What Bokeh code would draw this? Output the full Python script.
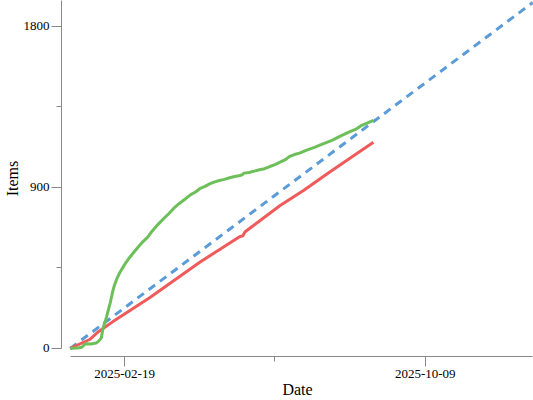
import pandas as pd
from bokeh.plotting import figure
from bokeh.models import FixedTicker, DatetimeTickFormatter, Range1d
from bokeh.embed import file_html
from bokeh.resources import INLINE

# ---- data ----
green_dates = ["2025-01-08", "2025-01-15", "2025-01-17", "2025-01-19", "2025-01-20", "2025-01-24",
               "2025-01-28", "2025-01-30", "2025-02-01", "2025-02-02", "2025-02-03", "2025-02-04",
               "2025-02-05", "2025-02-06", "2025-02-07", "2025-02-08", "2025-02-09", "2025-02-10",
               "2025-02-11", "2025-02-13", "2025-02-15", "2025-02-17", "2025-02-20", "2025-02-23",
               "2025-02-25", "2025-03-01", "2025-03-05", "2025-03-09", "2025-03-12", "2025-03-17",
               "2025-03-21", "2025-03-25", "2025-03-29", "2025-04-02", "2025-04-07", "2025-04-11",
               "2025-04-15", "2025-04-18", "2025-04-22", "2025-04-26", "2025-04-29", "2025-05-03",
               "2025-05-07", "2025-05-11", "2025-05-15", "2025-05-19", "2025-05-21", "2025-05-22",
               "2025-05-26", "2025-05-30", "2025-06-03", "2025-06-07", "2025-06-11", "2025-06-15",
               "2025-06-19", "2025-06-23", "2025-06-26", "2025-06-30", "2025-07-04", "2025-07-09",
               "2025-07-16", "2025-07-22", "2025-07-29", "2025-08-04", "2025-08-11", "2025-08-17",
               "2025-08-21", "2025-08-25", "2025-08-30"]
green_values = [0, 4, 7, 22, 26, 25,
                30, 41, 58, 100, 130, 150,
                175, 203, 231, 258, 292, 325,
                350, 390, 420, 445, 480, 510,
                528, 563, 596, 624, 654, 695,
                725, 753, 784, 809, 837, 860,
                876, 893, 906, 921, 930, 939,
                945, 954, 961, 967, 972, 980,
                984, 991, 999, 1005, 1017, 1028,
                1041, 1055, 1072, 1084, 1092, 1107,
                1125, 1144, 1163, 1185, 1209, 1228,
                1247, 1259, 1275]

red_dates = ["2025-01-08", "2025-01-23", "2025-01-30", "2025-02-10", "2025-03-10", "2025-04-18",
             "2025-05-19", "2025-05-21", "2025-05-23", "2025-06-19", "2025-07-07", "2025-07-27",
             "2025-08-30"]
red_values = [0, 50, 95, 150, 282, 482, 626, 628, 652, 799, 883, 985, 1152]

blue_dates = ["2025-01-08", "2025-12-31"]
blue_values = [0, 1934]

x_tick_dates = ["2025-02-19", "2025-10-09"]
x_minor_tick_dates = ["2025-06-15"]
y_ticks = [0, 900, 1800]
y_minor_ticks = [450, 1350]

x_axis_title = "Date"
y_axis_title = "Items"


def ms(d):
    return pd.Timestamp(d).value // 10**6


FONT = "Liberation Serif"
AXIS_COLOR = "#888888"

p = figure(width=533, height=400, output_backend="svg", toolbar_location=None,
           x_axis_type="datetime",
           x_range=Range1d(pd.Timestamp("2025-01-01 07:00"), pd.Timestamp("2025-12-31 12:00")),
           y_range=Range1d(-45, 1945),
           min_border_left=58, min_border_right=0, min_border_top=0, min_border_bottom=44)
p.outline_line_color = None
p.grid.visible = False
p.background_fill_color = "white"
p.border_fill_color = "white"

p.line(pd.to_datetime(blue_dates), blue_values, line_color="#5a9bd8", line_width=3,
       line_dash="8 6")
p.line(pd.to_datetime(red_dates), red_values, line_color="#ef5a5a", line_width=3)
p.line(pd.to_datetime(green_dates), green_values, line_color="#6dbf5a", line_width=3)

xa = p.xaxis[0]
xa.ticker = FixedTicker(ticks=[ms(d) for d in x_tick_dates],
                        minor_ticks=[ms(d) for d in x_minor_tick_dates])
fmt = "%Y-%m-%d"
xa.formatter = DatetimeTickFormatter(days=fmt, months=fmt, years=fmt, hours=fmt,
                                     minutes=fmt, seconds=fmt, milliseconds=fmt,
                                     microseconds=fmt, hourmin=fmt, minsec=fmt)
xa.bounds = (pd.Timestamp(blue_dates[0]), pd.Timestamp(blue_dates[-1]))
xa.axis_label = x_axis_title

ya = p.yaxis[0]
ya.ticker = FixedTicker(ticks=y_ticks, minor_ticks=y_minor_ticks)
ya.bounds = (0, 1945)
ya.axis_label = y_axis_title

for ax in (xa, ya):
    ax.axis_line_color = AXIS_COLOR
    ax.major_tick_line_color = AXIS_COLOR
    ax.minor_tick_line_color = AXIS_COLOR
    ax.major_tick_in = 0
    ax.major_tick_out = 10
    ax.minor_tick_in = 0
    ax.minor_tick_out = 5
    ax.major_label_text_font = FONT
    ax.major_label_text_font_size = "13px"
    ax.major_label_text_color = "#000000"
    ax.axis_label_text_font = FONT
    ax.axis_label_text_font_size = "16px"
    ax.axis_label_text_font_style = "normal"
    ax.axis_label_text_color = "#000000"

xa.major_label_standoff = 3
xa.axis_label_standoff = 0
ya.major_label_standoff = 2
ya.axis_label_standoff = 0

open("out.html", "w").write(file_html(p, INLINE))
